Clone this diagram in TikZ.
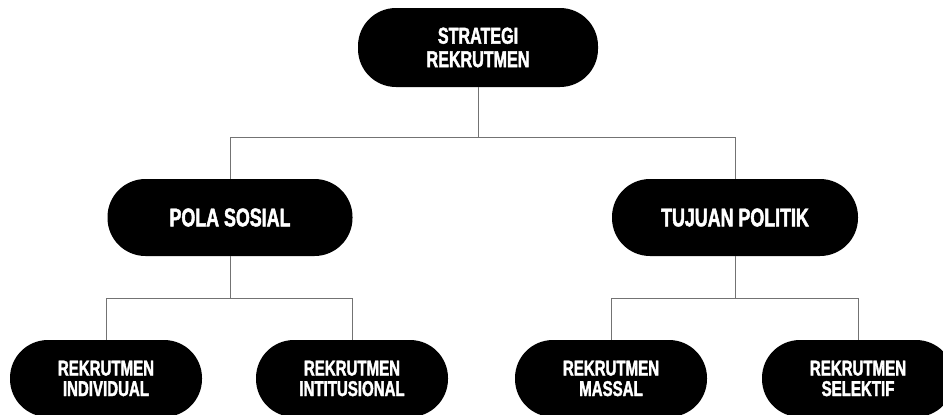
\documentclass[tikz,border=0pt]{standalone}
\usepackage{fontspec}
\newfontfamily\pillfont[FakeStretch=0.7,FakeBold=1.8]{Liberation Sans}

\begin{document}
\begin{tikzpicture}[x=1pt,y=-1pt,
	pill/.style={fill=black,text=white,rounded corners=38pt,minimum height=77pt,
		inner sep=0pt,align=center,font=\pillfont\bfseries},
	link/.style={draw=black!55,line width=0.8pt}]
\useasboundingbox (0,0) rectangle (943,415);

% root
\node[pill,minimum width=240pt,minimum height=79pt,font=\pillfont\bfseries\fontsize{23}{23.5}\selectfont] (root) at (478,47.5) {STRATEGI\\REKRUTMEN};

% second level
\node[pill,minimum width=245pt,font=\pillfont\bfseries\fontsize{25.5}{27}\selectfont] (sosial) at (230,217.5) {POLA SOSIAL};
\node[pill,minimum width=246pt,font=\pillfont\bfseries\fontsize{25.5}{27}\selectfont] (politik) at (735,217.5) {TUJUAN POLITIK};

% leaves
\node[pill,minimum width=192pt,font=\pillfont\bfseries\fontsize{21.5}{20.5}\selectfont] (individual) at (106,378.5) {REKRUTMEN\\INDIVIDUAL};
\node[pill,minimum width=192pt,font=\pillfont\bfseries\fontsize{21.5}{20.5}\selectfont] (intitusional) at (352,378.5) {REKRUTMEN\\INTITUSIONAL};
\node[pill,minimum width=192pt,font=\pillfont\bfseries\fontsize{21.5}{20.5}\selectfont] (massal) at (611,378.5) {REKRUTMEN\\MASSAL};
\node[pill,minimum width=192pt,font=\pillfont\bfseries\fontsize{21.5}{20.5}\selectfont] (selektif) at (858,378.5) {REKRUTMEN\\SELEKTIF};

% connectors
\draw[link] (root.south) -- ++(0,50) coordinate (j0);
\draw[link] (sosial.north) |- (j0) -| (politik.north);
\draw[link] (sosial.south) -- ++(0,42) coordinate (j1);
\draw[link] (individual.north) |- (j1) -| (intitusional.north);
\draw[link] (politik.south) -- ++(0,42) coordinate (j2);
\draw[link] (massal.north) |- (j2) -| (selektif.north);
\end{tikzpicture}
\end{document}
